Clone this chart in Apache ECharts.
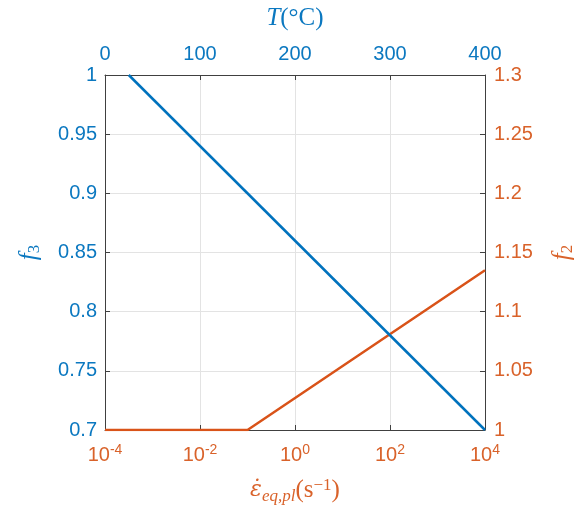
<!DOCTYPE html>
<html>
<head>
<meta charset="utf-8">
<script src="https://cdn.jsdelivr.net/npm/echarts@6/dist/echarts.min.js"></script>
<style>
  html, body { margin: 0; padding: 0; background: #fff; }
  #chart { width: 588px; height: 508px; }
</style>
</head>
<body>
<div id="chart"></div>
<script>
// Thermal softening factor f3 against temperature (top / left axes)
const tempC = [25, 400];
const f3Values = [1.0, 0.7];

// Strain-rate hardening factor f2 against plastic strain rate (bottom / right axes)
const strainRate = [1e-4, 1e-1, 1e4];
const f2Values = [1.0, 1.0, 1.135];

// Axis ranges and tick steps
const tempTicks = { min: 0, max: 400, step: 100 };
const f3Ticks = { min: 0.7, max: 1.0, step: 0.05 };
const f2Ticks = { min: 1.0, max: 1.3, step: 0.05 };
const rateTicks = { min: 1e-4, max: 1e4, stepDecades: 2 };

const BLUE = '#0072BD';
const ORANGE = '#D95319';
const BLUE_TXT = '#0B78C0';
const ORANGE_TXT = '#D9622A';
const AXIS = '#404040';
const GRID = '#e3e3e3';
const SANS = '"Liberation Sans", Arial, Helvetica, sans-serif';
const SERIF = '"DejaVu Serif", "Liberation Serif", serif';
const SERIF2 = '"Liberation Serif", "DejaVu Serif", serif';

const chart = echarts.init(document.getElementById('chart'), null, { renderer: 'canvas' });

const axisLineStyle = { show: true, lineStyle: { color: AXIS, width: 1 } };
const tickStyle = { show: true, inside: true, length: 5, lineStyle: { color: AXIS, width: 1 } };

chart.setOption({
  animation: false,
  backgroundColor: '#fff',
  grid: { left: 105, right: 103, top: 75, bottom: 78, containLabel: false, outerBoundsMode: 'none' },
  xAxis: [
    {
      type: 'log',
      logBase: 10,
      position: 'bottom',
      min: rateTicks.min,
      max: rateTicks.max,
      interval: rateTicks.stepDecades,
      axisLine: axisLineStyle,
      axisTick: tickStyle,
      splitLine: { show: true, lineStyle: { color: GRID, width: 1 } },
      axisLabel: {
        margin: 13,
        color: ORANGE_TXT,
        formatter: function (v) {
          const e = Math.round(Math.log10(v));
          return '{b|10}{s|' + e + '}';
        },
        rich: {
          b: { fontFamily: SANS, fontSize: 20, color: ORANGE_TXT, verticalAlign: 'bottom', lineHeight: 22 },
          s: { fontFamily: SANS, fontSize: 14, color: ORANGE_TXT, verticalAlign: 'top', padding: [0, 0, 10, 0], lineHeight: 22 }
        }
      },
      name: '{e|ε̇}{sub|eq,pl}{u|(s}{sup|−1}{u|)}',
      nameLocation: 'middle',
      nameGap: 46,
      nameTextStyle: {
        rich: {
          e: { fontFamily: SERIF, fontStyle: 'italic', fontSize: 22, color: ORANGE_TXT },
          sub: { fontFamily: SERIF2, fontStyle: 'italic', fontSize: 17, color: ORANGE_TXT, padding: [12, 0, 0, 0] },
          u: { fontFamily: SERIF2, fontSize: 25, color: ORANGE_TXT },
          sup: { fontFamily: SERIF2, fontSize: 17, color: ORANGE_TXT, padding: [0, 0, 10, 0] }
        }
      }
    },
    {
      type: 'value',
      position: 'top',
      min: tempTicks.min,
      max: tempTicks.max,
      interval: tempTicks.step,
      axisLine: axisLineStyle,
      axisTick: tickStyle,
      splitLine: { show: false },
      axisLabel: { margin: 11, color: BLUE_TXT, fontFamily: SANS, fontSize: 20 },
      name: '{i|T}{u|(°C)}',
      nameLocation: 'middle',
      nameGap: 44,
      nameTextStyle: {
        rich: {
          i: { fontFamily: SERIF2, fontStyle: 'italic', fontSize: 25, color: BLUE_TXT },
          u: { fontFamily: SERIF2, fontSize: 25, color: BLUE_TXT }
        }
      }
    }
  ],
  yAxis: [
    {
      type: 'value',
      position: 'left',
      min: f3Ticks.min,
      max: f3Ticks.max,
      interval: f3Ticks.step,
      axisLine: axisLineStyle,
      axisTick: tickStyle,
      splitLine: { show: true, lineStyle: { color: GRID, width: 1 } },
      axisLabel: {
        margin: 8, color: BLUE_TXT, fontFamily: SANS, fontSize: 20,
        formatter: function (v) { return String(parseFloat(v.toFixed(2))); }
      },
      name: '{i|f}{sub|3}',
      nameLocation: 'middle',
      nameGap: 62,
      nameRotate: 90,
      nameTextStyle: {
        rich: {
          i: { fontFamily: SERIF2, fontStyle: 'italic', fontSize: 25, color: BLUE_TXT },
          sub: { fontFamily: SERIF2, fontSize: 17, color: BLUE_TXT, padding: [10, 0, 0, 0] }
        }
      }
    },
    {
      type: 'value',
      position: 'right',
      min: f2Ticks.min,
      max: f2Ticks.max,
      interval: f2Ticks.step,
      axisLine: axisLineStyle,
      axisTick: tickStyle,
      splitLine: { show: false },
      axisLabel: {
        margin: 9, color: ORANGE_TXT, fontFamily: SANS, fontSize: 20,
        formatter: function (v) { return String(parseFloat(v.toFixed(2))); }
      },
      name: '{i|f}{sub|2}',
      nameLocation: 'middle',
      nameGap: 64,
      nameRotate: 90,
      nameTextStyle: {
        rich: {
          i: { fontFamily: SERIF2, fontStyle: 'italic', fontSize: 25, color: ORANGE_TXT },
          sub: { fontFamily: SERIF2, fontSize: 17, color: ORANGE_TXT, padding: [10, 0, 0, 0] }
        }
      }
    }
  ],
  series: [
    {
      name: 'f3',
      type: 'line',
      xAxisIndex: 1,
      yAxisIndex: 0,
      data: tempC.map((t, i) => [t, f3Values[i]]),
      showSymbol: false,
      lineStyle: { color: BLUE, width: 2.5 },
      itemStyle: { color: BLUE },
      z: 3
    },
    {
      name: 'f2',
      type: 'line',
      xAxisIndex: 0,
      yAxisIndex: 1,
      data: strainRate.map((r, i) => [r, f2Values[i]]),
      showSymbol: false,
      lineStyle: { color: ORANGE, width: 2.5 },
      itemStyle: { color: ORANGE },
      z: 2
    }
  ]
});
</script>
</body>
</html>
